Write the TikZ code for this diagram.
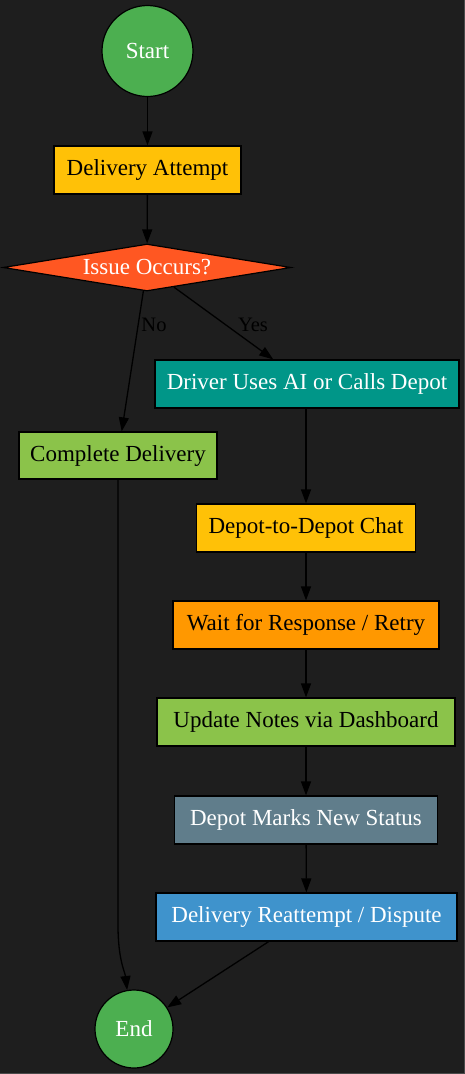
\documentclass[tikz,border=0pt]{standalone}
\usepackage{fontspec}
\setmainfont{Liberation Serif}
\usetikzlibrary{shapes.geometric,arrows.meta}
\definecolor{bg}{HTML}{1E1E1E}
\definecolor{edgegray}{HTML}{4A4A4A}
\definecolor{cgreen}{HTML}{4CAF50}
\definecolor{amber}{HTML}{FFC107}
\definecolor{dorange}{HTML}{FF5722}
\definecolor{cteal}{HTML}{009688}
\definecolor{lgreen}{HTML}{8BC34A}
\definecolor{corange}{HTML}{FF9800}
\definecolor{bgray}{HTML}{607D8B}
\definecolor{cblue}{HTML}{3F93CC}
\begin{document}
\begin{tikzpicture}[x=1pt,y=-1pt,
  every node/.style={font=\fontsize{23}{27}\selectfont},
  boxnode/.style={draw=black, line width=1.2pt, rectangle, inner sep=0pt, minimum height=48pt, text=black},
  circnode/.style={draw=black, line width=1.2pt, circle, inner sep=0pt, fill=cgreen, text=white},
  dianode/.style={draw=black, line width=1.2pt, diamond, aspect=6.1, inner sep=0pt, minimum width=288pt, minimum height=47pt, fill=dorange, text=white},
  lbl/.style={font=\fontsize{20.5}{24}\selectfont, text=black, inner sep=0pt},
  arr/.style={draw=black, line width=1.3pt, -{Triangle[length=14pt,width=10pt]}}
]
\fill[bg] (0,0) rectangle (465,1074);
\useasboundingbox (0,0) rectangle (465,1074);
\draw[edgegray, line width=1pt] (464.5,0) -- (464.5,1073.5) -- (0,1073.5);

\node[circnode, minimum size=91pt] (st) at (147.5,51) {Start};
\node[boxnode, fill=amber, minimum width=187pt] (da) at (147.5,170) {Delivery Attempt};
\node[dianode] (iss) at (147,267.5) {Issue Occurs?};
\node[boxnode, fill=cteal, text=white, minimum width=304pt] (dr) at (307,384) {Driver Uses AI or Calls Depot};
\node[boxnode, fill=lgreen, minimum width=198pt, minimum height=47pt] (cd) at (118,455.5) {Complete Delivery};
\node[boxnode, fill=amber, minimum width=219pt] (dc) at (306,528) {Depot-to-Depot Chat};
\node[boxnode, fill=corange, minimum width=266pt] (wr) at (306,625) {Wait for Response / Retry};
\node[boxnode, fill=lgreen, minimum width=298pt] (un) at (306,722) {Update Notes via Dashboard};
\node[boxnode, fill=bgray, text=white, minimum width=263pt] (dm) at (306,820) {Depot Marks New Status};
\node[boxnode, fill=cblue, text=white, minimum width=301pt] (ra) at (306.5,917) {Delivery Reattempt / Dispute};
\node[circnode, minimum size=78pt] (en) at (134,1029) {End};

\coordinate (bend) at (118,925);
\coordinate (c1) at (118,960);
\coordinate (c2) at (125,972);

\draw[arr] (st) -- (da);
\draw[arr] (da) -- (iss);
\draw[arr] (iss) -- (cd);
\draw[arr] (iss) -- (dr);
\draw[arr] (dr.south -| dc.north) -- (dc);
\draw[arr] (dc) -- (wr);
\draw[arr] (wr) -- (un);
\draw[arr] (un) -- (dm);
\draw[arr] (dm) -- (ra);
\draw[arr] (ra) -- (en);
\draw[arr] (cd.south) -- (bend) .. controls (c1) and (c2) .. (en.100);

\node[lbl] (lno) at (154,325) {No};
\node[lbl] (lyes) at (253,325) {Yes};
\end{tikzpicture}
\end{document}
